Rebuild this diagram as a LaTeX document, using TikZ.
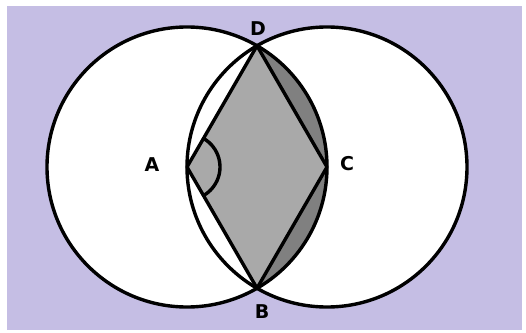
\documentclass[tikz,border=0pt]{standalone}
\usepackage{fontspec}
\setmainfont{DejaVu Sans}
\usetikzlibrary{calc}
\definecolor{lav}{RGB}{197,190,228}
\definecolor{lightg}{RGB}{169,169,169}
\definecolor{darkg}{RGB}{128,128,128}
\begin{document}
\begin{tikzpicture}[x=1pt,y=1pt,
  edge/.style={draw=black,line width=3.4pt,line join=round},
  lbl/.style={font=\fontsize{19}{22}\selectfont\bfseries,text=black,inner sep=0pt}]
\useasboundingbox (0,0) rectangle (526,332);
\fill[white] (0,0) rectangle (526,332);
\fill[lav] (7,2) rectangle (522,326);
\coordinate (A) at (187,165);
\coordinate (C) at (327,165);
\coordinate (D) at (257,286.24);
\coordinate (B) at (257,43.76);
\fill[white] (A) circle[radius=140];
\fill[white] (C) circle[radius=140];
\fill[darkg] (D) arc[start angle=60,end angle=-60,radius=140] -- (C) -- cycle;
\fill[lightg] (A) -- (D) -- (C) -- (B) -- cycle;
\draw[edge] (A) circle[radius=140];
\draw[edge] (C) circle[radius=140];
\draw[edge] (A) -- (D) -- (C) -- (B) -- cycle;
\draw[edge] ($(A)+(60:33)$) arc[start angle=60,end angle=-60,radius=33];
\node[lbl] (lD) at (258,303) {D};
\node[lbl] (lA) at (152,167) {A};
\node[lbl] (lC) at (347,168) {C};
\node[lbl] (lB) at (262,20) {B};
\end{tikzpicture}
\end{document}
